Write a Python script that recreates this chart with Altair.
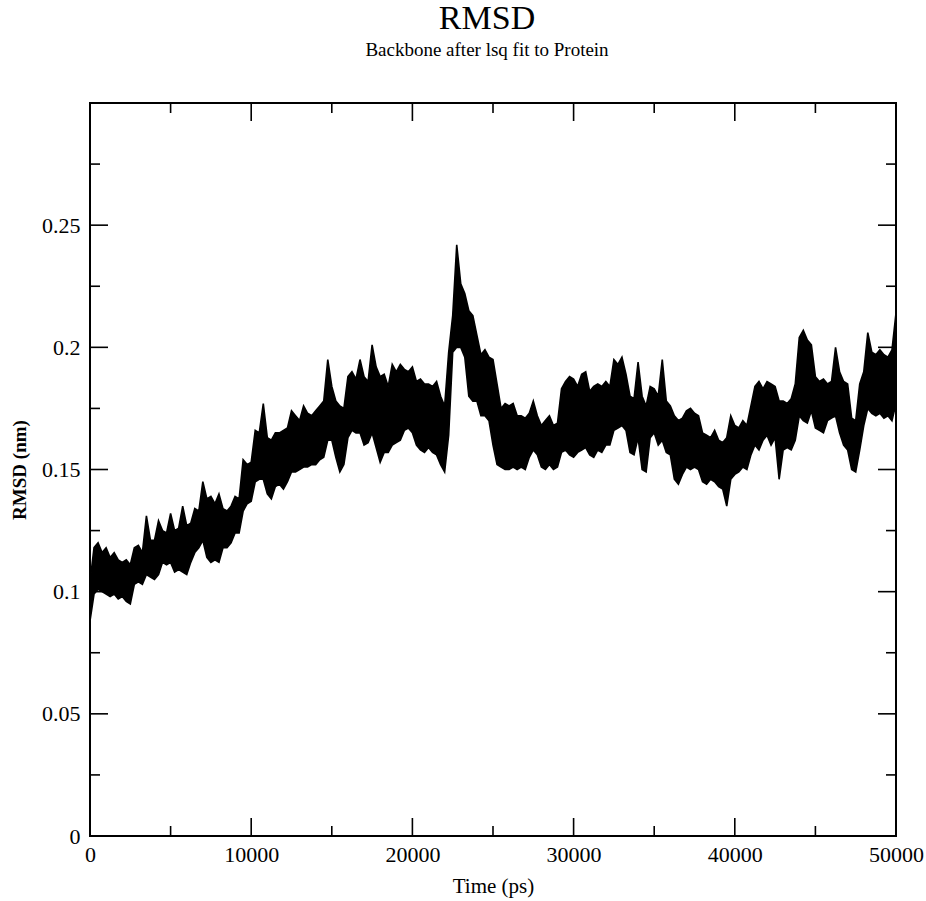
import altair as alt
import pandas as pd

# Time grid (ps) and band envelope (nm)
times = list(range(0, 50001, 250))

rmsd_hi = [
    0.104, 0.118, 0.120, 0.116, 0.118, 0.114, 0.116, 0.113, 0.112, 0.113,
    0.111, 0.118, 0.119, 0.116, 0.131, 0.121, 0.121, 0.129, 0.125, 0.124,
    0.132, 0.125, 0.126, 0.135, 0.127, 0.128, 0.134, 0.133, 0.145, 0.138,
    0.139, 0.136, 0.140, 0.134, 0.133, 0.135, 0.139, 0.138, 0.154, 0.152,
    0.153, 0.166, 0.165, 0.177, 0.163, 0.162, 0.165, 0.165, 0.166, 0.167,
    0.174, 0.172, 0.170, 0.176, 0.173, 0.172, 0.174, 0.176, 0.178, 0.195,
    0.184, 0.178, 0.176, 0.175, 0.188, 0.190, 0.187, 0.195, 0.188, 0.186,
    0.201, 0.192, 0.188, 0.189, 0.184, 0.193, 0.190, 0.193, 0.191, 0.190,
    0.192, 0.186, 0.187, 0.185, 0.185, 0.184, 0.186, 0.180, 0.176, 0.198,
    0.213, 0.242, 0.226, 0.222, 0.215, 0.213, 0.205, 0.197, 0.199, 0.196,
    0.195, 0.185, 0.175, 0.177, 0.176, 0.177, 0.172, 0.172, 0.171, 0.173,
    0.178, 0.172, 0.168, 0.170, 0.172, 0.168, 0.169, 0.183, 0.186, 0.188,
    0.187, 0.184, 0.189, 0.190, 0.182, 0.184, 0.185, 0.184, 0.186, 0.184,
    0.195, 0.193, 0.196, 0.189, 0.180, 0.179, 0.194, 0.180, 0.176, 0.184,
    0.183, 0.180, 0.195, 0.178, 0.176, 0.172, 0.170, 0.171, 0.174, 0.175,
    0.173, 0.172, 0.165, 0.164, 0.163, 0.166, 0.162, 0.161, 0.163, 0.172,
    0.168, 0.167, 0.170, 0.168, 0.176, 0.184, 0.186, 0.183, 0.186, 0.185,
    0.184, 0.178, 0.178, 0.177, 0.179, 0.185, 0.204, 0.207, 0.203, 0.201,
    0.188, 0.186, 0.187, 0.185, 0.186, 0.200, 0.190, 0.186, 0.185, 0.171,
    0.170, 0.185, 0.190, 0.206, 0.198, 0.197, 0.199, 0.197, 0.196, 0.199,
    0.214,
]

rmsd_lo = [
    0.088, 0.099, 0.101, 0.100, 0.099, 0.098, 0.099, 0.097, 0.098, 0.096,
    0.095, 0.103, 0.104, 0.103, 0.107, 0.106, 0.105, 0.107, 0.112, 0.111,
    0.112, 0.108, 0.109, 0.108, 0.107, 0.112, 0.116, 0.118, 0.121, 0.114,
    0.112, 0.113, 0.112, 0.118, 0.118, 0.120, 0.124, 0.124, 0.133, 0.136,
    0.137, 0.145, 0.146, 0.146, 0.140, 0.138, 0.143, 0.144, 0.142, 0.145,
    0.149, 0.149, 0.150, 0.151, 0.151, 0.152, 0.152, 0.154, 0.155, 0.162,
    0.162, 0.155, 0.149, 0.152, 0.163, 0.166, 0.165, 0.165, 0.160, 0.161,
    0.165, 0.159, 0.153, 0.157, 0.157, 0.160, 0.161, 0.162, 0.166, 0.167,
    0.165, 0.160, 0.158, 0.157, 0.159, 0.157, 0.156, 0.152, 0.149, 0.164,
    0.198, 0.200, 0.200, 0.196, 0.180, 0.178, 0.178, 0.172, 0.172, 0.170,
    0.160, 0.152, 0.151, 0.150, 0.150, 0.151, 0.150, 0.151, 0.150, 0.155,
    0.158, 0.156, 0.151, 0.150, 0.152, 0.150, 0.151, 0.157, 0.158, 0.156,
    0.155, 0.157, 0.158, 0.159, 0.156, 0.155, 0.158, 0.157, 0.160, 0.160,
    0.166, 0.167, 0.168, 0.166, 0.157, 0.156, 0.163, 0.150, 0.149, 0.163,
    0.165, 0.160, 0.162, 0.157, 0.156, 0.146, 0.144, 0.148, 0.151, 0.150,
    0.151, 0.150, 0.145, 0.144, 0.146, 0.145, 0.143, 0.142, 0.135, 0.146,
    0.148, 0.149, 0.151, 0.150, 0.156, 0.160, 0.158, 0.162, 0.164, 0.160,
    0.163, 0.146, 0.158, 0.159, 0.158, 0.162, 0.172, 0.170, 0.169, 0.174,
    0.167, 0.166, 0.165, 0.170, 0.171, 0.172, 0.165, 0.160, 0.158, 0.150,
    0.149, 0.158, 0.168, 0.175, 0.173, 0.172, 0.173, 0.171, 0.172, 0.170,
    0.177,
]

x_major = [0, 10000, 20000, 30000, 40000, 50000]
x_minor = [5000, 15000, 25000, 35000, 45000]
y_major = [0, 0.05, 0.1, 0.15, 0.2, 0.25, 0.3]
y_minor = [0.025, 0.075, 0.125, 0.175, 0.225, 0.275]
y_labels = [0, 0.05, 0.1, 0.15, 0.2, 0.25]

W, H = 806, 733
MAJ, MIN = 18, 10
FONT = "Liberation Serif"

df = pd.DataFrame({"t": times, "hi": rmsd_hi, "lo": rmsd_lo})

xscale = alt.Scale(domain=[0, 50000], nice=False, zero=False)
yscale = alt.Scale(domain=[0, 0.3], nice=False, zero=False)

xaxis = alt.Axis(
    values=x_major, format="d", title="Time (ps)", ticks=False,
    domain=False, grid=False, labelFont=FONT, labelFontSize=22,
    labelColor="black", labelPadding=8, titleFont=FONT, titleFontSize=21,
    titleFontWeight="normal", titleColor="black", titlePadding=10,
    labelFlush=False)
yaxis = alt.Axis(
    values=y_labels, labelExpr="datum.value == 0 ? '0' : format(datum.value, '.2~f')",
    title="RMSD (nm)", ticks=False, domain=False, grid=False,
    labelFont=FONT, labelFontSize=22, labelColor="black", labelPadding=10,
    titleFont=FONT, titleFontSize=19, titleFontWeight="bold", titleColor="black",
    titlePadding=12, labelFlush=False)

band = alt.Chart(df).mark_area(color="black", stroke="black", strokeWidth=1.6).encode(
    x=alt.X("t:Q", scale=xscale, axis=xaxis),
    y=alt.Y("lo:Q", scale=yscale, axis=yaxis),
    y2="hi:Q",
)

def xticks(vals, length):
    d = pd.DataFrame({"t": vals})
    bottom = alt.Chart(d).mark_rule(color="black", strokeWidth=1.6).encode(
        x=alt.X("t:Q", scale=xscale, axis=xaxis), y=alt.value(H), y2=alt.value(H - length))
    top = alt.Chart(d).mark_rule(color="black", strokeWidth=1.6).encode(
        x=alt.X("t:Q", scale=xscale, axis=xaxis), y=alt.value(0), y2=alt.value(length))
    return [bottom, top]

def yticks(vals, length):
    d = pd.DataFrame({"lo": vals})
    left = alt.Chart(d).mark_rule(color="black", strokeWidth=1.6).encode(
        y=alt.Y("lo:Q", scale=yscale, axis=yaxis), x=alt.value(0), x2=alt.value(length))
    right = alt.Chart(d).mark_rule(color="black", strokeWidth=1.6).encode(
        y=alt.Y("lo:Q", scale=yscale, axis=yaxis), x=alt.value(W), x2=alt.value(W - length))
    return [left, right]

layers = [band] + xticks(x_major, MAJ) + xticks(x_minor, MIN) + yticks(y_major, MAJ) + yticks(y_minor, MIN)

chart = alt.layer(*layers).properties(
    width=W, height=H,
    background="white",
    title=alt.TitleParams(
        text="RMSD", subtitle="Backbone after lsq fit to Protein",
        font=FONT, fontSize=34, fontWeight="normal", color="black",
        subtitleFont=FONT, subtitleFontSize=19, subtitleColor="black",
        subtitlePadding=5, anchor="middle", offset=42, dx=-6),
    autosize=alt.AutoSizeParams(type="none"),
    padding={"left": 90, "top": 103, "right": 30, "bottom": 65},
).configure_view(stroke="black", strokeWidth=2)

chart.save("out.html", embed_options={"renderer": "svg", "actions": False})
